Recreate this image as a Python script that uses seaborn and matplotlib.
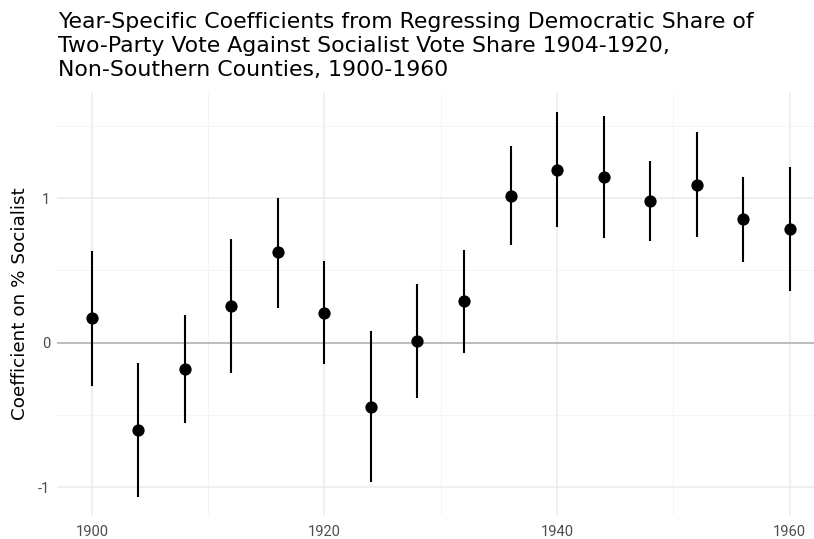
import matplotlib
matplotlib.use("Agg")
import matplotlib.pyplot as plt
import seaborn as sns
import pandas as pd
from matplotlib.ticker import MultipleLocator

years = [1900, 1904, 1908, 1912, 1916, 1920, 1924, 1928, 1932, 1936, 1940, 1944, 1948, 1952, 1956, 1960]
coef = [0.169, -0.604, -0.184, 0.256, 0.626, 0.208, -0.443, 0.012, 0.289, 1.015, 1.195, 1.145, 0.983, 1.094, 0.854, 0.789]
lower = [-0.30, -1.066, -0.558, -0.207, 0.243, -0.147, -0.966, -0.381, -0.069, 0.674, 0.799, 0.722, 0.706, 0.734, 0.561, 0.36]
upper = [0.637, -0.143, 0.19, 0.716, 1.004, 0.565, 0.083, 0.404, 0.642, 1.361, 1.597, 1.571, 1.26, 1.458, 1.145, 1.218]
x_ticks = [1900, 1920, 1940, 1960]
y_ticks = [-1, 0, 1]
title_lines = ["Year-Specific Coefficients from Regressing Democratic Share of",
               "Two-Party Vote Against Socialist Vote Share 1904-1920,",
               "Non-Southern Counties, 1900-1960"]

df = pd.DataFrame({"year": years, "coef": coef, "lower": lower, "upper": upper})

sns.set_theme(style="white")
plt.rcParams["font.family"] = ["Roboto", "DejaVu Sans"]

fig = plt.figure(figsize=(8.14, 5.39), dpi=100)
W, H = 814, 539
ax = fig.add_axes([57 / W, (H - 515) / H, (814 - 57) / W, (515 - 93) / H])

ax.set_xlim(1897, 1962.1)
ax.set_ylim(-1.192, 1.728)

# grid
ax.xaxis.set_major_locator(MultipleLocator(20))
ax.xaxis.set_minor_locator(MultipleLocator(10))
ax.yaxis.set_major_locator(MultipleLocator(1))
ax.yaxis.set_minor_locator(MultipleLocator(0.5))
ax.grid(which="major", color="#ebebeb", linewidth=1.1)
ax.grid(which="minor", color="#f2f2f2", linewidth=0.6)
ax.set_axisbelow(True)
for s in ax.spines.values():
    s.set_visible(False)

ax.axhline(0, color="#b3b3b3", linewidth=1.2, zorder=1)

ax.vlines(df["year"], df["lower"], df["upper"], color="black", linewidth=1.5, zorder=2)
sns.scatterplot(data=df, x="year", y="coef", ax=ax, color="black", s=78,
                edgecolor="black", linewidth=0, zorder=3)

ax.set_xticks(x_ticks)
ax.set_xticklabels([str(v) for v in x_ticks])
ax.set_yticks(y_ticks)
ax.set_yticklabels([str(v) for v in y_ticks])
ax.tick_params(axis="both", which="both", length=0, labelsize=10.5, colors="#4d4d4d", pad=5)
ax.tick_params(axis="x", pad=7)
ax.set_xlabel("")
ax.set_ylabel("Coefficient on % Socialist", fontsize=13.2, color="black", labelpad=6,
              family=["DejaVu Sans"])

baselines = [28.5, 52.5, 76.5]
for line, b in zip(title_lines, baselines):
    fig.text(58 / W, 1 - b / H, line, fontsize=15.8, ha="left", va="baseline",
             color="black", family=["DejaVu Sans"])

fig.savefig("out.png", dpi=100)
